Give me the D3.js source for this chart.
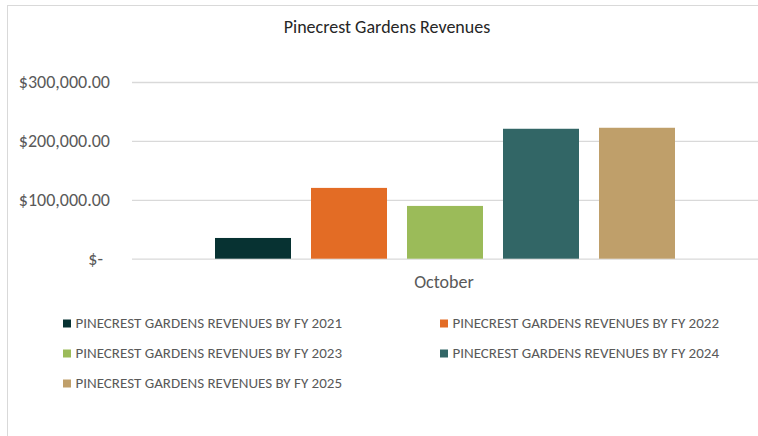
<!DOCTYPE html>
<html><head><meta charset="utf-8">
<script src="https://cdn.jsdelivr.net/npm/d3@7"></script>
<style>
html,body{margin:0;padding:0;background:#fff;}
svg{display:block;}
text{font-family:Carlito,Calibri,"Open Sans",sans-serif;}
</style></head>
<body>
<svg id="chart" width="758" height="436"></svg>
<script>
const categories = ["October"];
const seriesNames = [
  "PINECREST GARDENS REVENUES BY FY 2021",
  "PINECREST GARDENS REVENUES BY FY 2022",
  "PINECREST GARDENS REVENUES BY FY 2023",
  "PINECREST GARDENS REVENUES BY FY 2024",
  "PINECREST GARDENS REVENUES BY FY 2025"
];
const seriesValues = [35200, 120200, 89600, 220600, 222300];
const seriesColors = ["#073232", "#e36c25", "#9bbb59", "#326666", "#bf9f6a"];
const yTicks = [0, 100000, 200000, 300000];

const svg = d3.select("#chart");
// chart frame
svg.append("rect").attr("x",7.5).attr("y",5.5).attr("width",800).attr("height",500)
  .attr("fill","#fff").attr("stroke","#d9d9d9").attr("stroke-width",1);

const plot = {left:132, right:758, top:82, bottom:258.7};
const y = d3.scaleLinear().domain([0,300000]).range([plot.bottom, plot.top]);
const x0 = d3.scaleBand().domain(categories).range([plot.left, plot.right]);
const groupWidth = 460, center = x0(categories[0]) + x0.bandwidth()/2;
const x1 = d3.scaleBand().domain(seriesNames).range([center-groupWidth/2-10, center+groupWidth/2+10]).paddingInner(20/96).paddingOuter(10/96);

// title
svg.append("text").attr("x",387).attr("y",33).attr("text-anchor","middle")
  .attr("font-size",18).attr("fill","#262626").text("Pinecrest Gardens Revenues");

// gridlines
const yAxis = d3.axisLeft(y).tickValues(yTicks).tickSize(-(plot.right-plot.left)).tickPadding(22)
  .tickFormat(d => d === 0 ? "$-" : "$" + d3.format(",.2f")(d));
const ga = svg.append("g").attr("transform",`translate(${plot.left},0)`).call(yAxis);
ga.select(".domain").remove();
ga.selectAll(".tick line").attr("stroke","#d9d9d9").attr("stroke-width",1.3);
ga.selectAll(".tick text").attr("font-size",18).attr("fill","#595959")
  .attr("font-family",'Carlito,Calibri,"Open Sans",sans-serif')
  .attr("dx", d => d === 0 ? -7 : 0);

// bars
svg.append("g").selectAll("rect").data(seriesNames).join("rect")
  .attr("x", d => x1(d))
  .attr("width", x1.bandwidth())
  .attr("y", (d,i) => y(seriesValues[i]))
  .attr("height", (d,i) => y(0) - y(seriesValues[i]))
  .attr("fill", (d,i) => seriesColors[i]);

// x axis label
svg.append("text").attr("x",center-1).attr("y",288).attr("text-anchor","middle")
  .attr("font-size",18).attr("fill","#595959").text(categories[0]);

// legend
const legCols = [63, 440], legRows = [323.5, 353.5, 383.5];
const lg = svg.append("g").selectAll("g").data(seriesNames).join("g")
  .attr("transform",(d,i)=>`translate(${legCols[i%2]},${legRows[Math.floor(i/2)]})`);
lg.append("rect").attr("x",0).attr("y",-4).attr("width",8).attr("height",8)
  .attr("fill",(d,i)=>seriesColors[i]);
lg.append("text").attr("x",12.5).attr("y",4.5)
  .attr("font-size",15).attr("fill","#595959").text(d=>d);
</script>
</body></html>
